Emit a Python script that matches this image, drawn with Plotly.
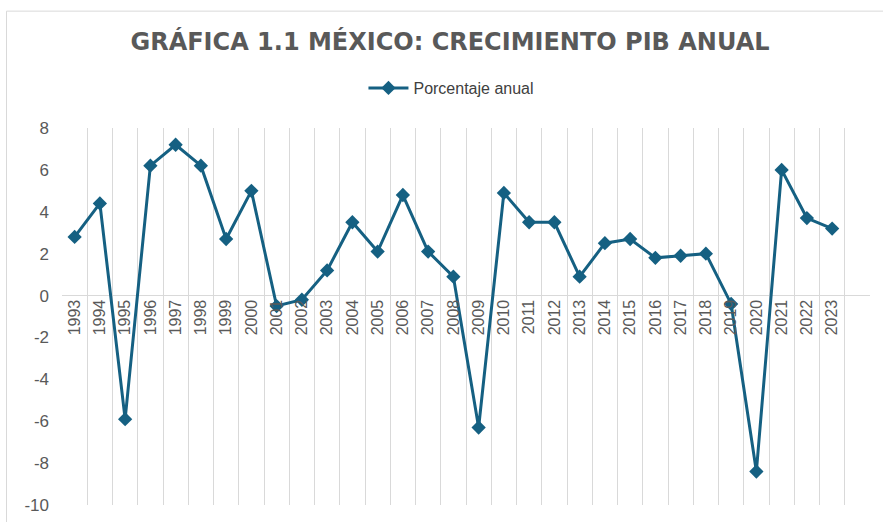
import plotly.graph_objects as go

years = [str(y) for y in range(1993, 2024)]
growth = [2.8, 4.4, -5.9, 6.2, 7.2, 6.2, 2.7, 5.0, -0.5, -0.2,
          1.2, 3.5, 2.1, 4.8, 2.1, 0.9, -6.3, 4.9, 3.5, 3.5,
          0.9, 2.5, 2.7, 1.8, 1.9, 2.0, -0.4, -8.4, 6.0, 3.7, 3.2]
categories = years + [" "]
y_ticks = [-10, -8, -6, -4, -2, 0, 2, 4, 6, 8]
y_ticktext = ["-10", "-8", "-6", "-4", "-2", "0", "2", "4", "6", "8"]

LINE = "#156082"
GRID = "#d9d9d9"
TXT = "#595959"

fig = go.Figure()
fig.add_trace(go.Scatter(
    x=years, y=growth, mode="lines+markers", name="Porcentaje anual",
    line=dict(color=LINE, width=3),
    marker=dict(symbol="diamond", size=11, color=LINE),
))

fig.update_layout(
    width=883, height=522,
    margin=dict(l=62, r=13, t=128, b=17, autoexpand=False),
    paper_bgcolor="white", plot_bgcolor="white",
    title=dict(text="<b>GRÁFICA 1.1 MÉXICO: CRECIMIENTO PIB ANUAL</b>",
               x=450/883, xanchor="center", xref="container",
               y=1-42/522, yanchor="middle", yref="container",
               font=dict(family="DejaVu Sans", size=24, color=TXT)),
    showlegend=True,
    legend=dict(orientation="h", x=0.482, xanchor="center", y=1.106, yanchor="middle",
                font=dict(family="Liberation Sans Narrow, Liberation Sans, Arial", size=16, color="#404040"),
                itemwidth=40, bgcolor="rgba(0,0,0,0)"),
    xaxis=dict(type="category", categoryorder="array", categoryarray=categories,
               range=[-0.5, 31.5], tickson="boundaries", showgrid=True,
               gridcolor=GRID, gridwidth=1, showline=False, ticks="",
               tickangle=-90, anchor="free", position=10/18,
               tickfont=dict(family="Liberation Sans, Arial", size=16, color=TXT),
               fixedrange=True),
    yaxis=dict(range=[-10, 8], tickvals=y_ticks, ticktext=y_ticktext, showgrid=False,
               zeroline=True, zerolinecolor=GRID, zerolinewidth=1,
               showline=False, ticks="", ticklabelstandoff=12,
               tickfont=dict(family="Liberation Sans, Arial", size=17, color=TXT)),
    shapes=[dict(type="rect", xref="paper", yref="paper",
                 x0=-0.0687, x1=1.03, y0=-0.06, y1=1.31,
                 line=dict(color=GRID, width=1), fillcolor="rgba(0,0,0,0)", layer="below")],
)

fig.write_html("out.html", config={"displayModeBar": False},
               post_script="document.body.style.margin='0px';")
